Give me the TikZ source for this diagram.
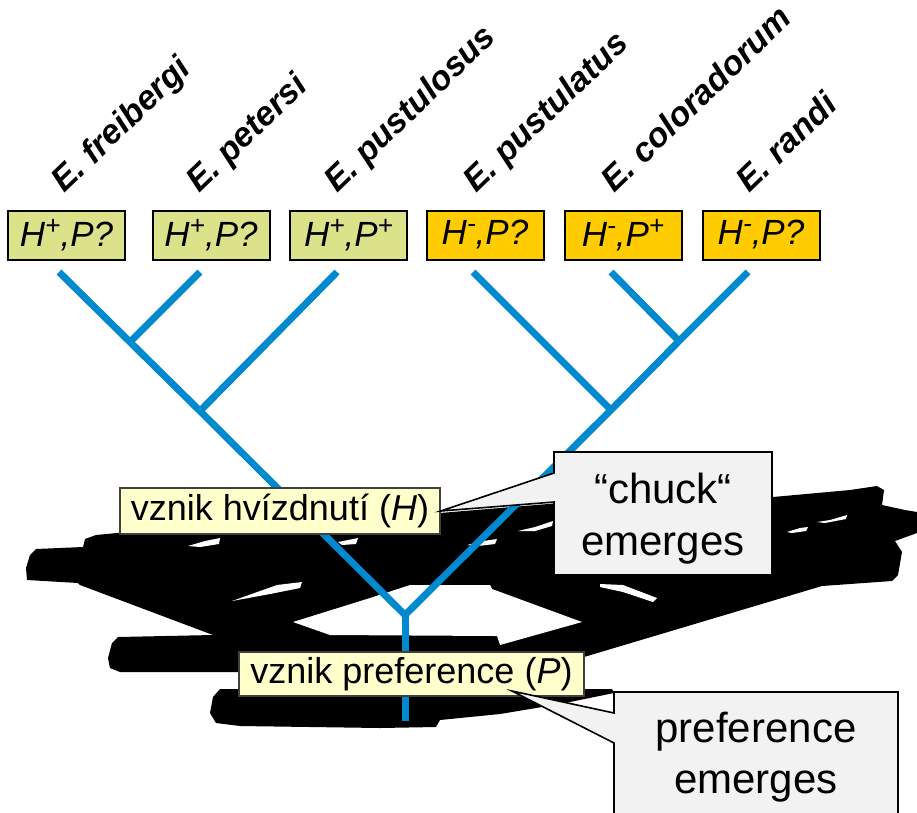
\documentclass[tikz,border=0pt]{standalone}
\usepackage{fontspec}
\setmainfont{Liberation Sans}
\definecolor{treeblue}{RGB}{0,137,207}
\definecolor{hplus}{RGB}{220,226,138}
\definecolor{hminus}{RGB}{255,204,0}
\definecolor{notefill}{RGB}{255,255,204}
\definecolor{callfill}{RGB}{242,242,242}
\newcommand\supx[1]{\raisebox{0.36em}{\scalebox{0.75}{#1}}}
\tikzset{
  statebox/.style={draw=black, line width=2pt, minimum width=117pt, minimum height=49pt, inner sep=0pt,
    font=\fontsize{35}{40}\selectfont\itshape},
  species/.style={rotate=44, anchor=base west, inner sep=0pt,
    font=\fontsize{34}{40}\selectfont\bfseries\itshape},
  branch/.style={draw=treeblue, line width=7pt, line join=round},
  eventbox/.style={fill=notefill, draw=black!75, line width=1.5pt, inner sep=0pt,
    font=\fontsize{36}{40}\selectfont},
  calloutshape/.style={fill=callfill, draw=black, line width=1.6pt, line join=miter},
  calltext/.style={anchor=base, inner sep=0pt, font=\fontsize{42}{50}\selectfont},
  blob/.style={fill=black},
  hole/.style={fill=white}
}
\begin{document}
\begin{tikzpicture}[x=1pt,y=-1pt]
\useasboundingbox (0,0) rectangle (917,812);
\clip (0,0) rectangle (917,812);

% black shadow shapes
\path[blob] (27,580) -- (26,568) -- (30,555) -- (36,549) -- (83,547) -- (85,539) -- (96,535) -- (117,533)
  -- (300,528) -- (440,513) -- (560,503) -- (773,497) -- (850,490) -- (877,486) -- (884,490) -- (882,505)
  -- (905,510) -- (917,512) -- (917,533) -- (895,541) -- (902,552) -- (898,575) -- (892,581) -- (822,586)
  -- (584,657) -- (583,672) -- (120,672) -- (110,668) -- (108,658) -- (112,643) -- (118,637) -- (213,635)
  -- (80,585) -- (78,583) -- cycle;
\path[blob] (220,689) -- (612,689) -- (614,693) -- (560,704) -- (500,714) -- (440,720) -- (436,727)
  -- (380,728) -- (240,726) -- (216,723) -- (210,713) -- (213,697) -- cycle;
% white gaps in the shadow
\path[hole] (293,622) -- (370,598) -- (410,585) -- (490,585) -- (492,589) -- (582,622) -- (500,645)
  -- (497,636) -- (330,635) -- cycle;
\path[hole] (232,601) -- (277,585) -- (302,582) -- (300,588) -- (270,594) -- cycle;
\path[hole] (188,546) -- (205,541) -- (220,538) -- (219,544) -- (200,547) -- cycle;
\path[hole] (338,542) -- (358,538) -- (356,544) -- (342,545) -- cycle;
\path[hole] (467,545) -- (483,541) -- (497,539) -- (495,544) -- (478,546) -- cycle;
\path[hole] (518,531) -- (535,527) -- (553,521) -- (552,526) -- (535,531) -- cycle;
\path[hole] (787,532) -- (800,528) -- (808,527) -- (806,531) -- (792,533) -- cycle;
\path[hole] (817,522) -- (830,520) -- (847,515) -- (846,519) -- (825,523) -- cycle;
\path[hole] (600,584) -- (623,585) -- (657,598) -- (653,602) -- (623,592) -- (600,587) -- cycle;

% tree
\coordinate (L1) at (59,272);
\coordinate (L2) at (200,272);
\coordinate (L3) at (337,272);
\coordinate (L4) at (473,272);
\coordinate (L5) at (611,272);
\coordinate (L6) at (748,272);
\coordinate (J1) at (130,342);
\coordinate (J2) at (200,411);
\coordinate (J3) at (611,410);
\coordinate (J4) at (679,341);
\coordinate (R) at (405,615);
\coordinate (S) at (405,721);
\draw[branch] (L1) -- (J1) -- (J2) -- (R) -- (J3) -- (J4) -- (L6);
\draw[branch] (L2) -- (J1);
\draw[branch] (L3) -- (J2);
\draw[branch] (L4) -- (J3);
\draw[branch] (L5) -- (J4);
\draw[branch] (R) -- (S);

% event labels
\node[eventbox, minimum width=320pt, minimum height=46pt] (b1) at (280,511) {vznik hvízdnutí ({\itshape H})};
\node[eventbox, minimum width=345pt, minimum height=44pt] (b2) at (411.5,674) {vznik preference ({\itshape P})};

% callouts
\coordinate (tip2) at (512,691);
\path[calloutshape] (554,452) -- (772,452) -- (772,575) -- (554,575) -- (554,502) -- (b1.east) -- (554,473) -- cycle;
\path[calloutshape] (614,692) -- (898,692) -- (898,840) -- (614,840) -- (614,743) -- (tip2) -- (614,713) -- cycle;
\node[calltext] (c1a) at (663,503) {“chuck“};
\node[calltext] (c1b) at (663,555) {emerges};
\node[calltext] (c2a) at (756,742) {preference};
\node[calltext] (c2b) at (756,793) {emerges};

% character states
\node[statebox, fill=hplus] (s1) at (66.5,235) {H\supx{+},P?};
\node[statebox, fill=hplus] (s2) at (211,235) {H\supx{+},P?};
\node[statebox, fill=hplus] (s3) at (348.5,235) {H\supx{+},P\supx{+}};
\node[statebox, fill=hminus] (s4) at (485,235) {H\supx{-},P?};
\node[statebox, fill=hminus] (s5) at (623,235) {H\supx{-},P\supx{+}};
\node[statebox, fill=hminus] (s6) at (761,235) {H\supx{-},P?};

% species
\node[species] (n1) at (64,194) {E. freibergi};
\node[species] (n2) at (199,194) {E. petersi};
\node[species] (n3) at (337,194) {E. pustulosus};
\node[species] (n4) at (476,194) {E. pustulatus};
\node[species] (n5) at (614,194) {E. coloradorum};
\node[species] (n6) at (749,194) {E. randi};
\end{tikzpicture}
\end{document}
